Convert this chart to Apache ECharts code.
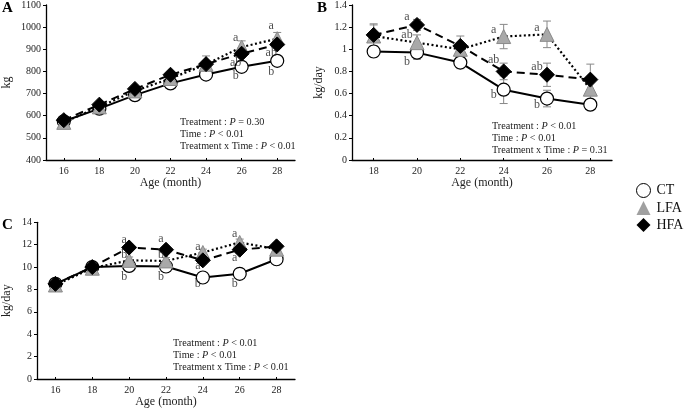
<!DOCTYPE html>
<html><head><meta charset="utf-8">
<script src="https://cdn.jsdelivr.net/npm/echarts@6/dist/echarts.min.js"></script>
<style>html,body{margin:0;padding:0;background:#fff}#c{width:685px;height:409px}</style>
</head><body><div id="c"></div>
<script>
// ---------- data ----------
const catsA = ['16','18','20','22','24','26','28'];
const catsB = ['18','20','22','24','26','28'];
const catsC = ['16','18','20','22','24','26','28'];

const A_CT  = [575, 632, 693, 746, 786, 821, 848];
const A_LFA = [570, 640, 712, 768, 832, 910, 948];
const A_HFA = [580, 650, 721, 785, 833, 880, 922];
const A_errCT  = [6, 6, 8, 8, 10, 10, 10];
const A_errLFA = [8, 8, 10, 12, 38, 28, 28];
const A_errHFA = [8, 8, 10, 12, 15, 15, 15];

const B_CT  = [0.98, 0.97, 0.88, 0.635, 0.555, 0.50];
const B_LFA = [1.12, 1.06, 1.00, 1.115, 1.135, 0.64];
const B_HFA = [1.13, 1.22, 1.03, 0.80, 0.77, 0.726];
const B_errCT  = [0.05, 0.06, 0.055, 0.125, 0.075, 0.04];
const B_errLFA = [0.10, 0.07, 0.05, 0.11, 0.12, 0.10];
const B_errHFA = [0.10, 0.05, 0.09, 0.075, 0.105, 0.14];

const C_CT  = [8.5, 10.0, 10.1, 10.05, 9.07, 9.4, 10.7];
const C_LFA = [8.4, 9.9, 10.6, 10.55, 11.3, 12.2, 11.6];
const C_HFA = [8.5, 10.0, 11.75, 11.55, 10.6, 11.55, 11.85];
const C_errCT  = [0.3, 0.3, 0.3, 0.3, 0.3, 0.3, 0.3];
const C_errLFA = [0.3, 0.3, 0.3, 0.3, 0.3, 0.3, 0.3];
const C_errHFA = [0.3, 0.3, 0.3, 0.3, 0.3, 0.3, 0.3];

const A_letters = [['26',952,'a'],['26',841,'ab'],['26',778,'b'],['28',1004,'a'],['28',886,'ab'],['28',797,'b']];
const B_letters = [['20',1.289,'a'],['20',1.126,'ab'],['20',0.889,'b'],['24',1.18,'a'],['24',0.904,'ab'],['24',0.584,'b'],['26',1.19,'a'],['26',0.838,'ab'],['26',0.495,'b']];
const C_letters = [['20',12.4,'a'],['20',11.1,'b'],['20',9.1,'b'],['22',12.5,'a'],['22',11.1,'b'],['22',9.15,'b'],['24',11.85,'a'],['24',10.1,'a'],['24',8.5,'b'],['26',12.95,'a'],['26',10.8,'a'],['26',8.5,'b']];

const A_stats = ['Treatment : {i|P} = 0.30','Time : {i|P} < 0.01','Treatment x Time : {i|P} < 0.01'];
const B_stats = ['Treatment : {i|P} < 0.01','Time : {i|P} < 0.01','Treatment x Time : {i|P} = 0.31'];
const C_stats = ['Treatment : {i|P} < 0.01','Time : {i|P} < 0.01','Treatment x Time : {i|P} < 0.01'];

const names = ['CT','LFA','HFA'];
// ---------- styles ----------
const FONT = '"Liberation Serif", "Times New Roman", serif';
const styles = {
  CT:  {symbol:'circle', size:13, item:{color:'#fff', borderColor:'#000', borderWidth:1.2}, line:{color:'#000', width:2, type:'solid'}},
  LFA: {symbol:'triangle', size:14, item:{color:'#a9a9a9', borderColor:'#8a8a8a', borderWidth:1}, line:{color:'#000', width:2.2, type:[2,2.5]}},
  HFA: {symbol:'diamond', size:15, item:{color:'#000', borderColor:'#000', borderWidth:1}, line:{color:'#000', width:2, type:[8,5]}}
};

function xAx(gi, cats){
  return {type:'category', gridIndex:gi, data:cats, boundaryGap:true,
    name:'Age (month)', nameLocation:'middle', nameGap:17,
    nameTextStyle:{fontFamily:FONT, fontSize:12, color:'#222'},
    axisLine:{lineStyle:{color:'#000', width:1.3}},
    axisTick:{show:true, inside:true, length:2, alignWithLabel:true, lineStyle:{color:'#000'}},
    axisLabel:{fontFamily:FONT, fontSize:10, color:'#222', margin:6},
    splitLine:{show:false}};
}
function yAx(gi, min, max, iv, name, gap){
  return {type:'value', gridIndex:gi, min:min, max:max, interval:iv,
    name:name, nameLocation:'middle', nameGap:gap,
    nameTextStyle:{fontFamily:FONT, fontSize:12, color:'#222'},
    axisLine:{show:true, lineStyle:{color:'#000', width:1.3}},
    axisTick:{show:true, length:3, lineStyle:{color:'#000'}},
    axisLabel:{fontFamily:FONT, fontSize:10, color:'#222', margin:5,
      formatter: v => String(Math.round(v * 100) / 100)},
    splitLine:{show:false}};
}

const series = [];
function addPanel(gi, cats, vals, errs, letters, letterOffset){
  // error bars
  names.forEach((n, k) => {
    series.push({type:'custom', xAxisIndex:gi, yAxisIndex:gi, z:1, silent:true,
      data: cats.map((c, i) => [i, vals[k][i] - errs[k][i], vals[k][i] + errs[k][i]]),
      renderItem: function(params, api){
        const lo = api.coord([api.value(0), api.value(1)]);
        const hi = api.coord([api.value(0), api.value(2)]);
        const w = 4;
        const st = {stroke:'#888', lineWidth:1};
        return {type:'group', children:[
          {type:'line', shape:{x1:lo[0], y1:lo[1], x2:hi[0], y2:hi[1]}, style:st},
          {type:'line', shape:{x1:lo[0]-w, y1:lo[1], x2:lo[0]+w, y2:lo[1]}, style:st},
          {type:'line', shape:{x1:hi[0]-w, y1:hi[1], x2:hi[0]+w, y2:hi[1]}, style:st}
        ]};
      }});
  });
  names.forEach((n, k) => {
    const s = styles[n];
    series.push({type:'line', name:n, xAxisIndex:gi, yAxisIndex:gi, z:3+k,
      data: vals[k], symbol:s.symbol, symbolSize:s.size, showAllSymbol:true,
      itemStyle:s.item, lineStyle:s.line, animation:false});
  });
  series.push({type:'scatter', xAxisIndex:gi, yAxisIndex:gi, z:10, symbolSize:0,
    data: letters, silent:true,
    label:{show:true, position:'inside', offset:[letterOffset,0], formatter:p => p.data[2],
      fontFamily:FONT, fontSize:12, color:'#222'}});
}

addPanel(0, catsA, [A_CT, A_LFA, A_HFA], [A_errCT, A_errLFA, A_errHFA], A_letters, -6);
addPanel(1, catsB, [B_CT, B_LFA, B_HFA], [B_errCT, B_errLFA, B_errHFA], B_letters, -10);
addPanel(2, catsC, [C_CT, C_LFA, C_HFA], [C_errCT, C_errLFA, C_errHFA], C_letters, -5);

function statText(x, y, lines){
  return {type:'text', left:x, top:y, silent:true,
    style:{text: lines.join('\n'), fontFamily:FONT, fontSize:10.2, fill:'#222', lineHeight:12,
      rich:{i:{fontStyle:'italic', fontFamily:FONT, fontSize:10.2, fill:'#222', lineHeight:12}}}};
}
function panelLabel(x, y, t){
  return {type:'text', left:x, top:y, style:{text:t, fontFamily:FONT, fontSize:15, fontWeight:'bold', fill:'#000'}};
}

const chart = echarts.init(document.getElementById('c'));
chart.setOption({
  animation:false,
  backgroundColor:'#fff',
  grid:[
    {left:45, top:2.5, width:250, height:157.5},
    {left:352, top:2.5, width:260, height:157.5},
    {left:36, top:222.3, width:259, height:157}
  ],
  xAxis:[xAx(0, catsA), xAx(1, catsB), xAx(2, catsC)],
  yAxis:[yAx(0, 400, 1100, 100, 'kg', 33), yAx(1, 0, 1.4, 0.2, 'kg/day', 27), yAx(2, 0, 14, 2, 'kg/day', 24)],
  legend:{orient:'vertical', left:636, top:183, padding:0, itemWidth:14, itemHeight:14, itemGap:3,
    textStyle:{fontFamily:FONT, fontSize:14, color:'#111', padding:[0,0,0,1]},
    data:[
      {name:'CT', icon:'circle', itemStyle:{color:'#fff', borderColor:'#000', borderWidth:1}},
      {name:'LFA', icon:'triangle', itemStyle:{color:'#a0a0a0', borderColor:'#a0a0a0', borderWidth:0}},
      {name:'HFA', icon:'diamond', itemStyle:{color:'#000', borderColor:'#000', borderWidth:0}}
    ]},
  graphic:[
    panelLabel(2, 1, 'A'), panelLabel(317, 1, 'B'), panelLabel(2, 218, 'C'),
    statText(180, 116, A_stats), statText(492, 120, B_stats), statText(173, 337, C_stats)
  ],
  series: series
});
</script></body></html>
